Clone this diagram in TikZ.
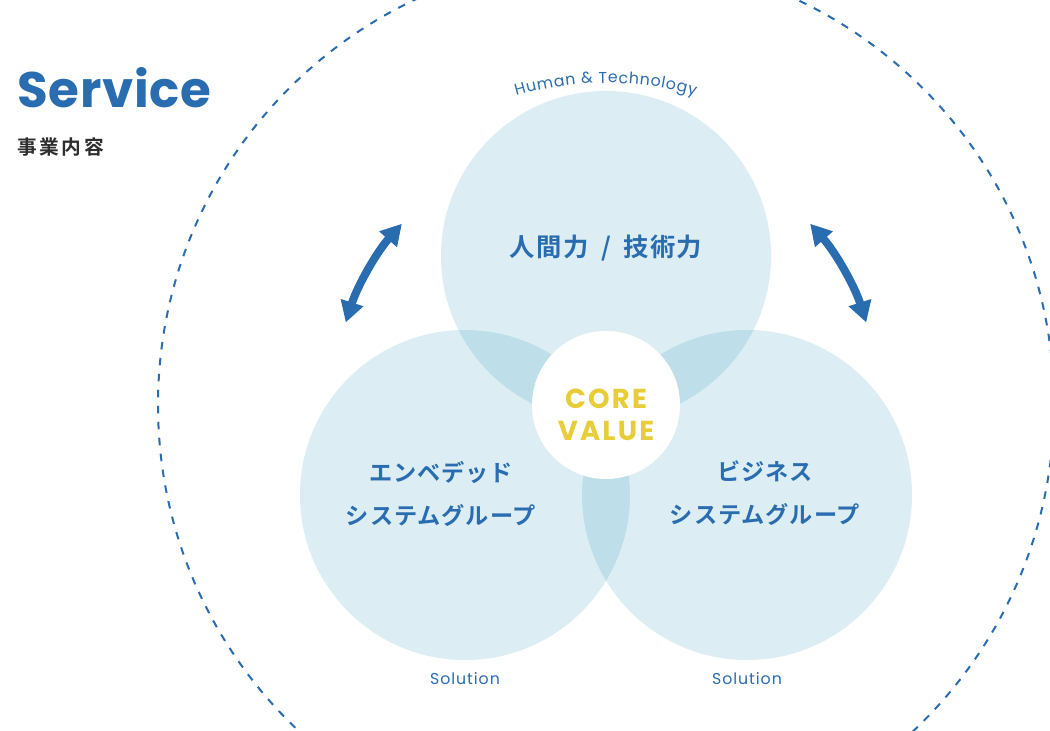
\documentclass[tikz,border=0pt]{standalone}
\usepackage{fontspec}
\setmainfont{Poppins}
\newfontfamily\jpfont{Noto Sans CJK JP}[BoldFont={Noto Sans CJK JP Bold}]
\usetikzlibrary{arrows.meta,decorations.text}

\definecolor{ringfill}{HTML}{DCEEF4}
\definecolor{ringmix}{HTML}{BEDFEA}
\definecolor{brandblue}{HTML}{2A6CB0}
\definecolor{coreyellow}{HTML}{E8CC38}
\definecolor{inkgray}{HTML}{2E2E2E}
\newcommand{\smallFont}{\fontsize{11.2pt}{13pt}\selectfont}

\begin{document}
\begin{tikzpicture}
[x=0.025cm,y=0.025cm,
  ringDecorate/.style={shape=circle,fill=ringfill,minimum size=8.25cm,inner sep=0pt},%
  coreDecorate/.style={shape=circle,fill=white,minimum size=3.7cm,inner sep=0pt},%
  titleDecorate/.style={font=\fontsize{35.5pt}{40pt}\selectfont\bfseries\addfontfeatures{LetterSpace=1.5},text=brandblue,inner sep=0pt},%
  subtitleDecorate/.style={font=\jpfont\bfseries\fontsize{14pt}{16pt}\selectfont\addfontfeatures{LetterSpace=13},text=inkgray,inner sep=0pt},%
  jpDecorate/.style={font=\jpfont\bfseries\fontsize{16.5pt}{30.6pt}\selectfont\addfontfeatures{LetterSpace=4},text=brandblue,align=center,inner sep=0pt},%
  coreTextDecorate/.style={font=\bfseries\fontsize{19.5pt}{22.8pt}\selectfont\addfontfeatures{LetterSpace=8},text=coreyellow,align=center,inner sep=0pt},%
  smallDecorate/.style={font=\smallFont\addfontfeatures{LetterSpace=6},text=brandblue,inner sep=0pt},%
  arrowDecorate/.style={arrows={Triangle[width=0.56cm,length=0.52cm]-Triangle[width=0.56cm,length=0.52cm]},line width=0.2cm,draw=brandblue},%
  outerDecorate/.style={draw=brandblue,line width=0.05cm,dash pattern=on 0.19cm off 0.21cm}]
\useasboundingbox (0,0) rectangle (1050,730);
\clip (0,0) rectangle (1050,730);
%% heading
\node (title) at (17,622) [anchor=base west,titleDecorate] {Service};
\node (subtitle) at (17,575) [anchor=base west,subtitleDecorate] {事業内容};
%% circles
\foreach \ringname/\x/\y in {human/606/474, embedded/465/235, business/747/235} {
  \node (\ringname) at (\x,\y) [ringDecorate] {};
}
%% overlaps
\foreach \first/\second in {human/embedded, human/business, embedded/business} {
  \begin{scope}
    \clip (\first.center) circle (165);
    \fill[ringmix] (\second.center) circle (165);
  \end{scope}
}
\node (core) at (606,325) [coreDecorate] {};
%% labels
\node (coretext) at (606,315.5) [coreTextDecorate] {CORE\\VALUE};
\node (humantext) at (606,482) [jpDecorate,font=\jpfont\bfseries\fontsize{18pt}{20pt}\selectfont\addfontfeatures{LetterSpace=5}] {人間力\hspace{0.5em}/\hspace{0.5em}技術力};
\node (embeddedtext) at (441,236.5) [jpDecorate] {エンベデッド\\システムグループ};
\node (businesstext) at (765,236.5) [jpDecorate] {ビジネス\\システムグループ};
\node (leftsolution) at (465,51) [smallDecorate] {Solution};
\node (rightsolution) at (747,51) [smallDecorate] {Solution};
\path[decorate,decoration={text along path,text align={fit to path},
  text={|\smallFont\color{brandblue}|Human {\&} Technology}}]
  ([shift={(106.2:322)}]core.center) arc[start angle=106.2,end angle=73.9,radius=322];
%% arrows
\coordinate (leftlow) at ([shift={(162.4:273)}]core.center);
\coordinate (righttop) at ([shift={(41.6:273)}]core.center);
\draw[arrowDecorate] (leftlow) arc[start angle=162.4,end angle=138.4,radius=273];
\draw[arrowDecorate] (righttop) arc[start angle=41.6,end angle=17.6,radius=273];
%% outer ring
\draw[outerDecorate] (core.center) circle (448);
\end{tikzpicture}
\end{document}
